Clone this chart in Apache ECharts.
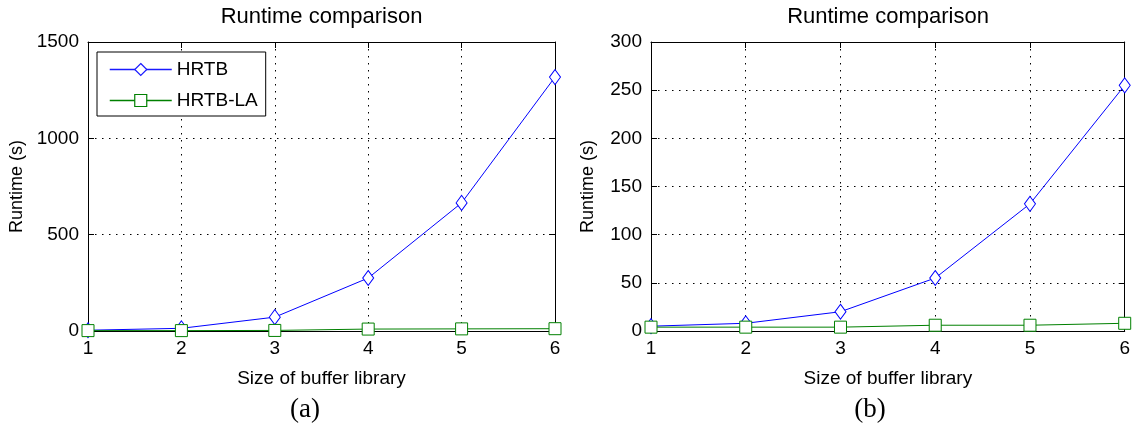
<!DOCTYPE html>
<html>
<head>
<meta charset="utf-8">
<script src="https://cdn.jsdelivr.net/npm/echarts@6/dist/echarts.min.js"></script>
<style>
html,body{margin:0;padding:0;background:#fff;}
#c{width:1133px;height:429px;}
</style>
</head>
<body>
<div id="c"></div>
<script>
var categories = [1, 2, 3, 4, 5, 6];
var hrtbA = [4, 14, 72, 275, 665, 1318];
var hrtbLaA = [2, 2, 3, 10, 11, 12];
var hrtbB = [5, 8, 20, 55, 132, 255];
var hrtbLaB = [4, 4, 4, 6, 6, 8];
var yTicksA = { min: 0, max: 1500, interval: 500 };
var yTicksB = { min: 0, max: 300, interval: 50 };
var titleText = 'Runtime comparison';
var xName = 'Size of buffer library';
var yName = 'Runtime (s)';
var panelLabels = ['(a)', '(b)'];

var FONT = 'Liberation Sans';
var BLUE = '#0000ff', GREEN = '#008000';
var grids = [
  { left: 88, top: 42, width: 467, height: 289 },
  { left: 651, top: 42, width: 474, height: 289 }
];

function pairs(vals) { return categories.map(function (c, i) { return [c, vals[i]]; }); }

var dotted = { color: '#000', width: 1, type: [1.5, 5.5] };

function xAxisMain(gi) {
  return {
    type: 'value', gridIndex: gi, min: 1, max: 6, interval: 1, position: 'bottom',
    name: xName, nameLocation: 'middle', nameGap: 38,
    nameTextStyle: { fontFamily: FONT, fontSize: 19, color: '#000' },
    axisLine: { show: true, onZero: false, lineStyle: { color: '#000', width: 1 } },
    axisTick: { show: true, inside: true, length: 6, lineStyle: { color: '#000' } },
    axisLabel: { fontFamily: FONT, fontSize: 19, color: '#000', margin: 8 },
    splitLine: { show: true, lineStyle: dotted }
  };
}
function xAxisTop(gi) {
  return {
    type: 'value', gridIndex: gi, min: 1, max: 6, interval: 1, position: 'top',
    axisLine: { show: true, onZero: false, lineStyle: { color: '#000', width: 1 } },
    axisTick: { show: true, inside: true, length: 6, lineStyle: { color: '#000' } },
    axisLabel: { show: false }, splitLine: { show: false }
  };
}
function yAxisMain(gi, t, gap) {
  return {
    type: 'value', gridIndex: gi, min: t.min, max: t.max, interval: t.interval, position: 'left',
    name: yName, nameLocation: 'middle', nameGap: gap, nameRotate: 90,
    nameTextStyle: { fontFamily: FONT, fontSize: 18, color: '#000' },
    axisLine: { show: true, onZero: false, lineStyle: { color: '#000', width: 1 } },
    axisTick: { show: true, inside: true, length: 6, lineStyle: { color: '#000' } },
    axisLabel: { fontFamily: FONT, fontSize: 19, color: '#000', margin: 9, formatter: function (v) { return String(v); } },
    splitLine: { show: true, lineStyle: dotted }
  };
}
function yAxisRight(gi, t) {
  return {
    type: 'value', gridIndex: gi, min: t.min, max: t.max, interval: t.interval, position: 'right',
    axisLine: { show: true, onZero: false, lineStyle: { color: '#000', width: 1 } },
    axisTick: { show: true, inside: true, length: 6, lineStyle: { color: '#000' } },
    axisLabel: { show: false }, splitLine: { show: false }
  };
}

function lineSeries(name, vals, xi, yi, color, symbol, size) {
  return {
    name: name, type: 'line', xAxisIndex: xi, yAxisIndex: yi, data: pairs(vals),
    color: color,
    symbol: symbol, symbolSize: size, showSymbol: true,
    lineStyle: { color: color, width: 1 },
    itemStyle: { color: '#fff', borderColor: color, borderWidth: 1 },
    emphasis: { disabled: true }, animation: false, z: 3
  };
}

var chart = echarts.init(document.getElementById('c'), null, { renderer: 'canvas' });
chart.setOption({
  animation: false,
  backgroundColor: '#fff',
  grid: grids.map(function (g) { return Object.assign({ show: false, containLabel: false }, g); }),
  xAxis: [xAxisMain(0), xAxisMain(1), xAxisTop(0), xAxisTop(1)],
  yAxis: [yAxisMain(0, yTicksA, 62), yAxisMain(1, yTicksB, 54), yAxisRight(0, yTicksA), yAxisRight(1, yTicksB)],
  legend: {
    show: true, left: 97, top: 52, orient: 'vertical',
    data: [
      { name: 'HRTB', lineStyle: { color: '#1a1aff', width: 1.5 }, itemStyle: { color: '#fff', borderColor: '#1a1aff', borderWidth: 1.2 } },
      { name: 'HRTB-LA', lineStyle: { color: GREEN, width: 1.5 }, itemStyle: { color: '#fff', borderColor: GREEN, borderWidth: 1.2 } }
    ],
    borderColor: '#000', borderWidth: 1, padding: [8, 8, 6, 12],
    itemWidth: 62, itemHeight: 15, itemGap: 12,
    textStyle: { fontFamily: FONT, fontSize: 19, color: '#000' },
    backgroundColor: '#fff', selectedMode: false
  },
  series: [
    lineSeries('HRTB', hrtbA, 0, 0, BLUE, 'diamond', [11, 15]),
    lineSeries('HRTB-LA', hrtbLaA, 0, 0, GREEN, 'rect', [12, 12]),
    lineSeries('HRTB', hrtbB, 1, 1, BLUE, 'diamond', [11, 15]),
    lineSeries('HRTB-LA', hrtbLaB, 1, 1, GREEN, 'rect', [12, 12])
  ],
  graphic: [
    { type: 'text', x: grids[0].left + grids[0].width / 2, y: 17, style: { text: titleText, fontFamily: FONT, fontSize: 22, fill: '#000', align: 'center', verticalAlign: 'middle' } },
    { type: 'text', x: grids[1].left + grids[1].width / 2, y: 17, style: { text: titleText, fontFamily: FONT, fontSize: 22, fill: '#000', align: 'center', verticalAlign: 'middle' } },
    { type: 'text', x: 305, y: 410, style: { text: panelLabels[0], fontFamily: 'Liberation Serif', fontSize: 27, fill: '#000', align: 'center', verticalAlign: 'middle' } },
    { type: 'text', x: 870, y: 410, style: { text: panelLabels[1], fontFamily: 'Liberation Serif', fontSize: 27, fill: '#000', align: 'center', verticalAlign: 'middle' } }
  ]
});
</script>
</body>
</html>
